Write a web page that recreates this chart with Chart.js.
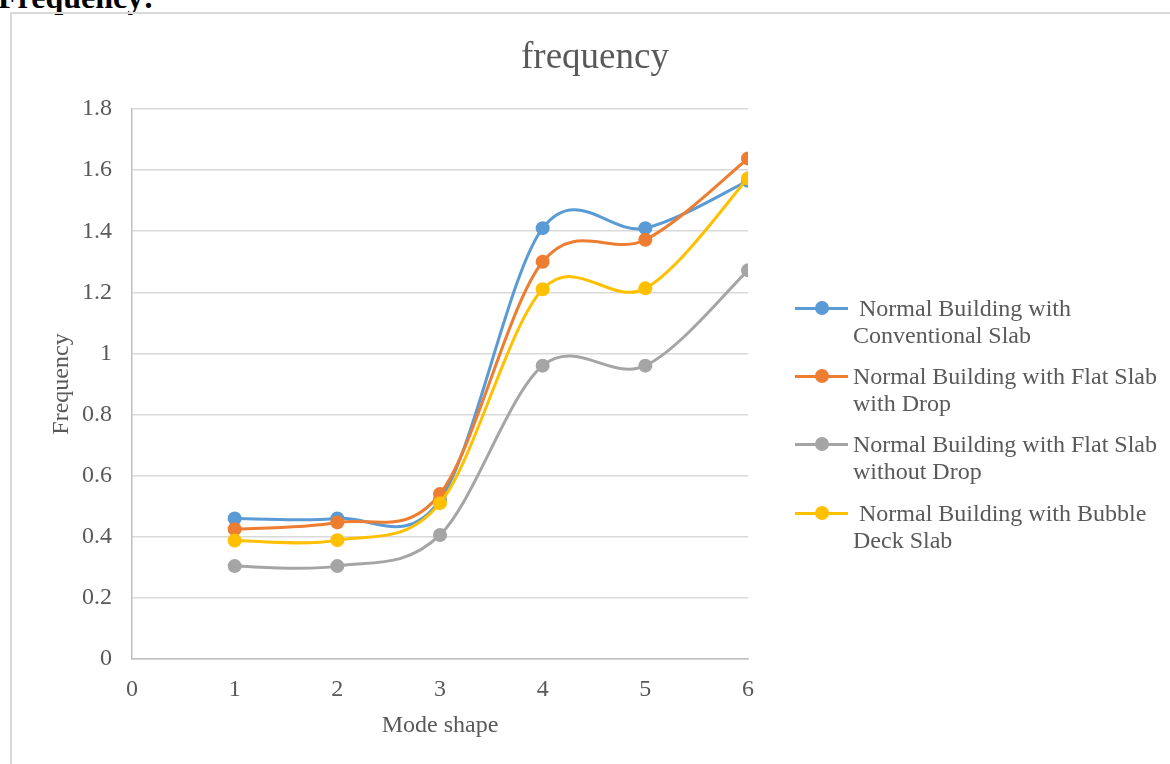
<!DOCTYPE html>
<html>
<head>
<meta charset="utf-8">
<script src="https://cdn.jsdelivr.net/npm/chart.js@4/dist/chart.umd.min.js"></script>
<style>
  html, body { margin: 0; padding: 0; background: #fff; }
  body { width: 1170px; height: 764px; position: relative; overflow: hidden; }
  .heading { position: absolute; left: -2px; top: -19px; font: bold 32px 'Liberation Serif', 'Times New Roman', serif; color: #000; line-height: 32px; white-space: nowrap; }
  .frame { position: absolute; left: 10px; top: 12px; width: 1200px; height: 800px; border: 2px solid #d9d9d9; box-sizing: border-box; }
  canvas { position: absolute; left: 0; top: 0; }
  .title { position: absolute; left: 595px; top: 37px; transform: translateX(-50%); font: 37px 'Liberation Serif', 'Times New Roman', serif; line-height: 37px; color: #595959; white-space: nowrap; }
  .lg-line { position: absolute; height: 3px; }
  .lg-dot { position: absolute; width: 14px; height: 14px; border-radius: 50%; }
  .lg-text { position: absolute; font: 24px 'Liberation Serif', 'Times New Roman', serif; line-height: 27px; color: #595959; white-space: pre; }
</style>
</head>
<body>
<div class="heading">Frequency:</div>
<div class="frame"></div>
<canvas id="chart" width="1170" height="764"></canvas>
<div class="title">frequency</div>
<div id="legend"></div>
<script>
// Mode shapes on the x axis
const modes = [1, 2, 3, 4, 5, 6];

// Frequency per mode for each slab system
const conventionalSlab = [0.46, 0.46, 0.52, 1.41, 1.41, 1.565];
const flatSlabWithDrop = [0.425, 0.447, 0.54, 1.30, 1.372, 1.638];
const flatSlabWithoutDrop = [0.304, 0.304, 0.406, 0.96, 0.96, 1.272];
const bubbleDeckSlab = [0.388, 0.389, 0.51, 1.21, 1.213, 1.573];

const seriesNames = [
  ' Normal Building with\nConventional Slab',
  'Normal Building with Flat Slab\nwith Drop',
  'Normal Building with Flat Slab\nwithout Drop',
  ' Normal Building with Bubble\nDeck Slab'
];
const seriesColors = ['#5B9BD5', '#ED7D31', '#A5A5A5', '#FFC000'];

const xTickLabels = ['0', '1', '2', '3', '4', '5', '6'];
const yTickLabels = ['0', '0.2', '0.4', '0.6', '0.8', '1', '1.2', '1.4', '1.6', '1.8'];

const serif = "'Liberation Serif', 'Times New Roman', serif";
const textColor = '#595959';

const allSeries = [conventionalSlab, flatSlabWithDrop, flatSlabWithoutDrop, bubbleDeckSlab];

const datasets = allSeries.map((values, i) => ({
  label: seriesNames[i],
  data: modes.map((m, k) => ({ x: m, y: values[k] })),
  borderColor: seriesColors[i],
  backgroundColor: seriesColors[i],
  pointBackgroundColor: seriesColors[i],
  pointBorderColor: seriesColors[i],
  borderWidth: 3,
  pointRadius: 7,
  pointBorderWidth: 0,
  tension: 0.4,
  order: allSeries.length - i
}));

// Smooth each line as a uniform Catmull-Rom spline through the
// pixel positions the scales computed for its points.
const uniformSpline = {
  id: 'uniformSpline',
  beforeDatasetDraw(chart, args) {
    const line = args.meta.dataset;
    const pts = args.meta.data;
    if (!line || pts.length < 2) return;
    if (typeof line.updateControlPoints === 'function') {
      line.updateControlPoints(chart.chartArea, 'x');
    }
    for (let i = 0; i < pts.length; i++) {
      const p = pts[i];
      const prev = pts[Math.max(i - 1, 0)];
      const next = pts[Math.min(i + 1, pts.length - 1)];
      const dx = (next.x - prev.x) / 6;
      const dy = (next.y - prev.y) / 6;
      p.cp1x = p.x - dx; p.cp1y = p.y - dy;
      p.cp2x = p.x + dx; p.cp2y = p.y + dy;
    }
  }
};

new Chart(document.getElementById('chart'), {
  type: 'line',
  data: { datasets },
  plugins: [uniformSpline],
  options: {
    responsive: false,
    animation: false,
    devicePixelRatio: 1,
    layout: { padding: { left: 0, right: 422, top: 109, bottom: 0 } },
    plugins: {
      legend: { display: false },
      title: { display: false },
      tooltip: { enabled: false }
    },
    scales: {
      x: {
        type: 'linear',
        min: 0,
        max: 6,
        afterFit: (scale) => { scale.height = 105; },
        ticks: {
          stepSize: 1,
          padding: 16,
          color: textColor,
          font: { family: serif, size: 24 },
          callback: (v) => xTickLabels[v]
        },
        grid: { display: false, drawTicks: false },
        border: { display: true, color: '#bfbfbf', width: 1.5 },
        title: {
          display: true,
          text: 'Mode shape',
          color: textColor,
          font: { family: serif, size: 24 },
          padding: { top: 0, bottom: 24 }
        }
      },
      y: {
        min: 0,
        max: 1.8,
        afterFit: (scale) => { scale.width = 132; },
        ticks: {
          stepSize: 0.2,
          padding: 20,
          color: textColor,
          font: { family: serif, size: 24 },
          callback: (v) => yTickLabels[Math.round(v / 0.2)]
        },
        grid: { color: '#d9d9d9', lineWidth: 1.5, drawTicks: false },
        border: { display: true, color: '#bfbfbf', width: 1.5 },
        title: {
          display: true,
          text: 'Frequency',
          color: textColor,
          font: { family: serif, size: 24 },
          padding: { top: 47, bottom: 0 }
        }
      }
    }
  }
});

// Legend: line-and-marker swatch with wrapped label beside it
const legend = document.getElementById('legend');
const legendBaselines = [317, 385, 453, 522];
seriesNames.forEach((name, i) => {
  const markerY = legendBaselines[i] - 9;
  const line = document.createElement('div');
  line.className = 'lg-line';
  line.style.left = '795px';
  line.style.width = '53px';
  line.style.top = (markerY - 1.5) + 'px';
  line.style.background = seriesColors[i];
  const dot = document.createElement('div');
  dot.className = 'lg-dot';
  dot.style.left = (822 - 7) + 'px';
  dot.style.top = (markerY - 7) + 'px';
  dot.style.background = seriesColors[i];
  const text = document.createElement('div');
  text.className = 'lg-text';
  text.style.left = '853px';
  text.style.top = (legendBaselines[i] - 21.6) + 'px';
  text.textContent = name;
  legend.append(line, dot, text);
});
</script>
</body>
</html>
